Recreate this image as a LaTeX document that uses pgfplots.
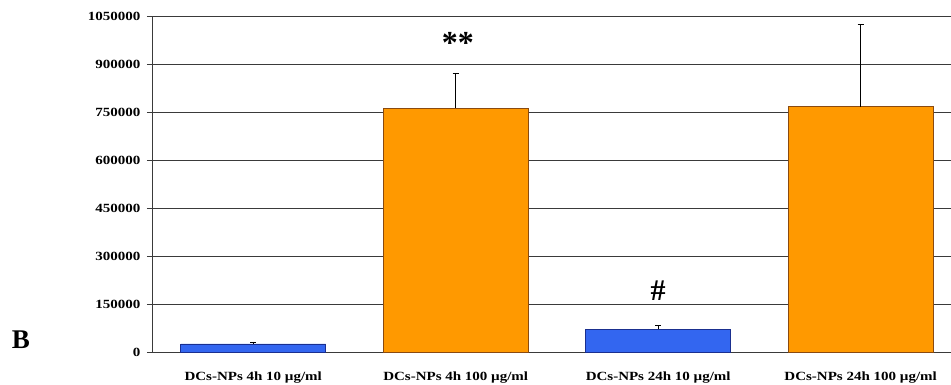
\documentclass[border=0pt]{standalone}
\usepackage{pgfplots}
\pgfplotsset{compat=1.18}
\usepackage{fontspec}
\setmainfont{Liberation Serif}
\definecolor{barblue}{HTML}{3366F0}
\definecolor{barblueedge}{HTML}{1A2F8F}
\definecolor{barorange}{HTML}{FF9900}
\definecolor{barorangeedge}{HTML}{8A4A10}
\definecolor{gridc}{HTML}{3A3A3A}
\begin{document}
\begin{tikzpicture}[x=1pt,y=1pt]
\clip (0,0) rectangle (951,385);
\path[use as bounding box] (0,0) rectangle (951,385);
\begin{axis}[
  at={(152pt,32.5pt)}, anchor=south west,
  scale only axis, width=799pt, height=336.5pt,
  xmin=-0.5, xmax=3.446,
  ymin=0, ymax=1050000,
  scaled y ticks=false,
  axis lines=left, axis line style={gridc, line width=0.8pt, -},
  ytick={0,150000,300000,450000,600000,750000,900000,1050000},
  yticklabels={0,150000,300000,450000,600000,750000,900000,1050000},
  ymajorgrids, grid style={gridc, line width=0.9pt},
  y tick label style={font=\fontsize{12.5}{13}\selectfont\bfseries, xscale=1.2, anchor=east, xshift=-2pt},
  major tick length=5pt,
  tick style={gridc, line width=0.8pt},
  ytick pos=left, xtick pos=bottom,
  tick align=outside,
  xtick={0,1,2,3},
  xticklabels={DCs-NPs 4h 10 µg/ml, DCs-NPs 4h 100 µg/ml, DCs-NPs 24h 10 µg/ml, DCs-NPs 24h 100 µg/ml},
  x tick label style={font=\fontsize{12.5}{13}\selectfont\bfseries, xscale=1.2, yshift=-11pt},
  xtick style={draw=none},
  extra x ticks={0.5,1.5,2.5},
  extra x tick labels={},
  extra x tick style={tick style={gridc, line width=0.8pt}, major tick length=4pt, grid=none},
  ybar, bar width=0.716, bar shift=0pt,
  clip=false,
]
\addplot[fill=barblue, draw=barblueedge, line width=0.7pt,
  error bars/.cd, y dir=plus, y explicit, error bar style={black, line width=0.7pt}, error mark options={rotate=90, mark size=3pt, black}]
  coordinates {(0,26600) +- (0,6200) (2,72800) +- (0,11600)};
\addplot[fill=barorange, draw=barorangeedge, line width=0.7pt,
  error bars/.cd, y dir=plus, y explicit, error bar style={black, line width=0.7pt}, error mark options={rotate=90, mark size=3pt, black}]
  coordinates {(1,762500) +- (0,109400) (3,766700) +- (0,257300)};
\node[font=\fontsize{32}{34}\selectfont\bfseries] at (axis cs:1.01,966000) {**};
\node[font=\fontsize{30}{32}\selectfont\bfseries] at (axis cs:2,194000) {\#};
\end{axis}
\node[font=\fontsize{27}{29}\selectfont\bfseries] at (21,45) {B};
\end{tikzpicture}
\end{document}
